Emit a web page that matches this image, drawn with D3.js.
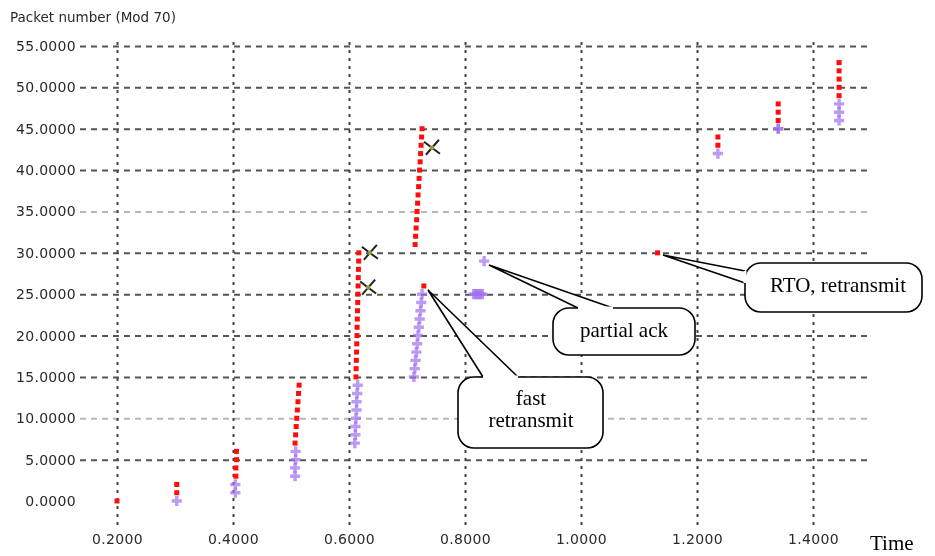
<!DOCTYPE html>
<html>
<head>
<meta charset="utf-8">
<script src="https://cdn.jsdelivr.net/npm/d3@7"></script>
<style>
  html, body { margin: 0; padding: 0; background: #fff; }
  svg { display: block; }
</style>
</head>
<body>
<svg id="chart" width="935" height="556"></svg>
<script>
// Axis ticks
const xTicks = [0.2, 0.4, 0.6, 0.8, 1.0, 1.2, 1.4];
const yTicks = [0, 5, 10, 15, 20, 25, 30, 35, 40, 45, 50, 55];

// Data packets sent: time (s) and packet number (mod 70)
const sentTime = [
  0.200,
  0.303, 0.303,
  0.405, 0.405, 0.406, 0.406,
  0.507, 0.508, 0.509, 0.510, 0.511, 0.512, 0.513, 0.514,
  0.612, 0.6123, 0.6127, 0.613, 0.6133, 0.6137, 0.614, 0.6143, 0.6147, 0.615, 0.6153, 0.6157, 0.616, 0.6163, 0.6167, 0.617,
  0.714, 0.7149, 0.7157, 0.7166, 0.7174, 0.7183, 0.7191, 0.720, 0.7209, 0.7217, 0.7226, 0.7234, 0.7243, 0.7251, 0.726,
  0.729,
  1.132,
  1.236, 1.236,
  1.340, 1.340, 1.340,
  1.445, 1.445, 1.445, 1.445, 1.445
];
const sentSeq = [
  0,
  1, 2,
  3, 4, 5, 6,
  7, 8, 9, 10, 11, 12, 13, 14,
  15, 16, 17, 18, 19, 20, 21, 22, 23, 24, 25, 26, 27, 28, 29, 30,
  31, 32, 33, 34, 35, 36, 37, 38, 39, 40, 41, 42, 43, 44, 45,
  26,
  30,
  43, 44,
  46, 47, 48,
  49, 50, 51, 52, 53
];

// Acknowledgements received
const ackTime = [
  0.303,
  0.404, 0.404,
  0.507, 0.507, 0.508, 0.508,
  0.610, 0.611, 0.611, 0.612, 0.613, 0.613, 0.614, 0.615,
  0.712, 0.7134, 0.7148, 0.7162, 0.7176, 0.719, 0.7204, 0.7218, 0.7232, 0.7246, 0.726,
  0.815, 0.818, 0.821, 0.824, 0.827, 0.830,
  0.833,
  1.236,
  1.340, 1.340,
  1.445, 1.445, 1.445
];
const ackSeq = [
  0,
  1, 2,
  3, 4, 5, 6,
  7, 8, 9, 10, 11, 12, 13, 14,
  15, 16, 17, 18, 19, 20, 21, 22, 23, 24, 25,
  25, 25, 25, 25, 25, 25,
  29,
  42,
  45, 45,
  46, 47, 48
];

// Dropped packets
const dropTime = [0.636, 0.633, 0.743];
const dropSeq = [30, 25.8, 42.7];

// Callout annotations
const noteLines = [["RTO, retransmit"], ["partial ack"], ["fast", "retransmit"]];

const svg = d3.select("#chart");
const x = d3.scaleLinear().domain([0.2, 1.4]).range([117, 813]);
const y = d3.scaleLinear().domain([0, 55]).range([501, 46]);

const defs = svg.append("defs");
defs.append("filter").attr("id", "soft")
  .attr("x", "-5%").attr("y", "-5%").attr("width", "110%").attr("height", "110%")
  .append("feGaussianBlur").attr("stdDeviation", 0.55);

const plot = svg.append("g").attr("filter", "url(#soft)");
const fmt = d3.format(".4f");
const lightRows = new Set([10, 35]);
const labelFont = "DejaVu Sans, Verdana, sans-serif";

// Horizontal grid + y labels
const yAxis = plot.append("g")
  .attr("transform", "translate(80,0)")
  .call(d3.axisLeft(y).tickValues(yTicks).tickFormat(fmt).tickSize(-790).tickPadding(4));
yAxis.select(".domain").remove();
yAxis.selectAll(".tick line")
  .attr("stroke", d => lightRows.has(d) ? "#b8b8b8" : "#555")
  .attr("stroke-width", 2)
  .attr("stroke-dasharray", "6,5")
  .attr("opacity", d => d === 0 ? 0 : 1);
yAxis.selectAll(".tick text")
  .attr("font-family", labelFont)
  .attr("font-size", 14)
  .attr("letter-spacing", 0.3)
  .attr("fill", "#2a2a2a");

// Vertical grid + x labels
const xAxis = plot.append("g")
  .attr("transform", "translate(0,525)")
  .call(d3.axisBottom(x).tickValues(xTicks).tickFormat(fmt).tickSize(-483).tickPadding(9));
xAxis.select(".domain").remove();
xAxis.selectAll(".tick line")
  .attr("stroke", "#444")
  .attr("stroke-width", 2)
  .attr("stroke-dasharray", "3,5");
xAxis.selectAll(".tick text")
  .attr("font-family", labelFont)
  .attr("font-size", 14)
  .attr("letter-spacing", 0.3)
  .attr("fill", "#2a2a2a");

plot.append("text")
  .attr("x", 10).attr("y", 22)
  .attr("font-family", labelFont)
  .attr("font-size", 13.5)
  .attr("fill", "#2a2a2a")
  .text("Packet number (Mod 70)");

// Acks: purple crosses
const cross = d3.symbol().type(d3.symbolCross).size(58);
plot.append("g").selectAll("path")
  .data(d3.range(ackTime.length))
  .join("path")
  .attr("transform", i => `translate(${x(ackTime[i])},${y(ackSeq[i])})`)
  .attr("d", cross)
  .attr("fill", "#a070f0")
  .attr("opacity", 0.7);

// Sent packets: red squares
plot.append("g").selectAll("rect")
  .data(d3.range(sentTime.length))
  .join("rect")
  .attr("x", i => x(sentTime[i]) - 2.5)
  .attr("y", i => y(sentSeq[i]) - 2.5)
  .attr("width", 5).attr("height", 5)
  .attr("fill", "#ff1010");

// Drops: dark X marks
const drops = plot.append("g").selectAll("g")
  .data(d3.range(dropTime.length))
  .join("g")
  .attr("transform", i => `translate(${x(dropTime[i])},${y(dropSeq[i])})`);
drops.append("path")
  .attr("d", "M-8,-6L8,6M-6,7L7,-8")
  .attr("stroke", "#222").attr("stroke-width", 2).attr("fill", "none");
drops.append("circle").attr("r", 2.2).attr("fill", "#9a9a30");

// Callouts: box, wedge base points, wedge tip, text anchor
const calloutSpecs = [
  { box: [745, 263, 922, 312], base: [[745, 283], [745, 271]], tip: [663, 255], text: [838, 292], lh: 0 },
  { box: [553, 308, 695, 355], base: [[578, 308], [613, 308]], tip: [489, 265], text: [624, 337], lh: 0 },
  { box: [458, 377, 603, 448], base: [[483, 377], [518, 377]], tip: [428, 290], text: [531, 405], lh: 22 }
];
const notes = svg.append("g");
calloutSpecs.forEach((c, i) => {
  const [x0, y0, x1, y1] = c.box;
  const g = notes.append("g");
  g.append("rect")
    .attr("x", x0).attr("y", y0).attr("width", x1 - x0).attr("height", y1 - y0)
    .attr("rx", 16).attr("ry", 16)
    .attr("fill", "#fff").attr("stroke", "#000").attr("stroke-width", 1.6);
  g.append("path")
    .attr("d", `M${c.base[0][0]},${c.base[0][1]}L${c.tip[0]},${c.tip[1]}L${c.base[1][0]},${c.base[1][1]}`)
    .attr("fill", "#fff").attr("stroke", "#000").attr("stroke-width", 1.6)
    .attr("stroke-linejoin", "miter");
  // open the box outline where the wedge joins it
  g.append("line")
    .attr("x1", c.base[0][0]).attr("y1", c.base[0][1])
    .attr("x2", c.base[1][0]).attr("y2", c.base[1][1])
    .attr("stroke", "#fff").attr("stroke-width", 3);
  const t = g.append("text")
    .attr("x", c.text[0]).attr("y", c.text[1])
    .attr("text-anchor", "middle")
    .attr("font-family", "Liberation Serif, Times New Roman, serif")
    .attr("font-size", 21).attr("fill", "#000");
  noteLines[i].forEach((line, k) => {
    t.append("tspan").attr("x", c.text[0]).attr("dy", k === 0 ? 0 : c.lh).text(line);
  });
});

svg.append("text")
  .attr("x", 870).attr("y", 550)
  .attr("font-family", "Liberation Serif, Times New Roman, serif")
  .attr("font-size", 21).attr("fill", "#000")
  .text("Time");
</script>
</body>
</html>
